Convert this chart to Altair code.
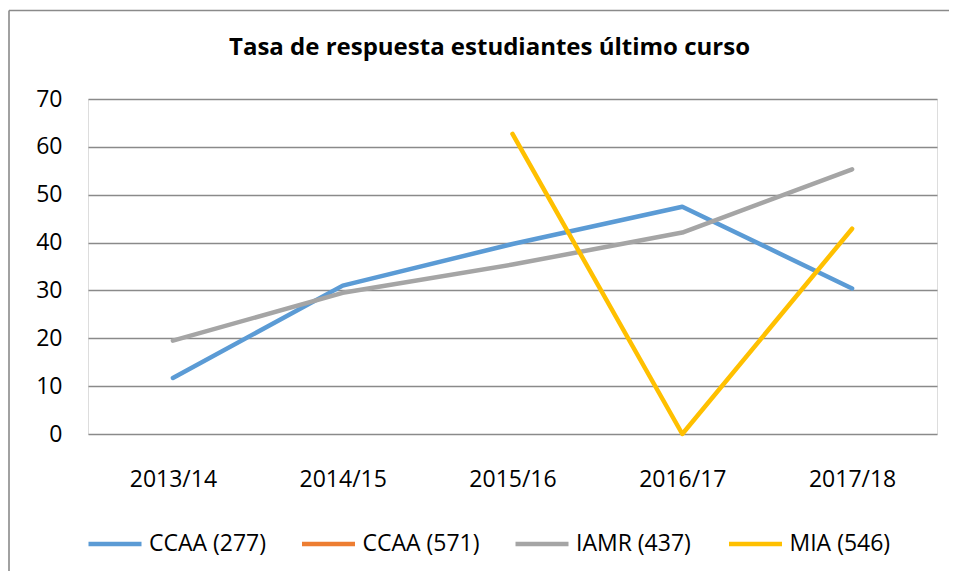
import altair as alt
import pandas as pd

years = ["2013/14", "2014/15", "2015/16", "2016/17", "2017/18"]
series_names = ["CCAA (277)", "CCAA (571)", "IAMR (437)", "MIA (546)"]
ccaa277 = [11.7, 31.0, 39.7, 47.5, 30.4]
ccaa571 = [None, None, None, None, None]
iamr437 = [19.5, 29.5, 35.4, 42.1, 55.3]
mia546 = [None, None, 62.7, 0.0, 42.9]
colors = ["#5B9BD5", "#ED7D31", "#A5A5A5", "#FFC000"]
y_ticks = [0, 10, 20, 30, 40, 50, 60, 70]

rows = []
for name, vals in zip(series_names, [ccaa277, ccaa571, iamr437, mia546]):
    for yr, v in zip(years, vals):
        rows.append({"Curso": yr, "Serie": name, "Valor": v})
df = pd.DataFrame(rows)

W, H = 849, 335
FONT = "Open Sans"
FS = 23

lines = alt.Chart(df).mark_line(strokeWidth=4.5, strokeCap="round", strokeJoin="round").encode(
    x=alt.X("Curso:N", sort=years, title=None,
            scale=alt.Scale(type="point", padding=0.5),
            axis=alt.Axis(grid=False, domain=False, ticks=False, tickSize=0,
                          labelPadding=34, labelFontSize=FS, labelFont=FONT,
                          labelColor="#000000", labelAngle=0)),
    y=alt.Y("Valor:Q", title=None,
            scale=alt.Scale(domain=[0, 70], nice=False, zero=True),
            axis=alt.Axis(values=y_ticks, grid=True, gridColor="#8a8a8a", gridWidth=1.6,
                          domain=False, ticks=False, tickSize=0, labelPadding=26,
                          labelFontSize=FS, labelFont=FONT, labelColor="#000000")),
    color=alt.Color("Serie:N", sort=series_names,
                    scale=alt.Scale(domain=series_names, range=colors),
                    legend=alt.Legend(title=None, orient="none", legendX=-2, legendY=416,
                                      direction="horizontal", columns=4, gridAlign="all",
                                      symbolType="stroke", symbolSize=2809,
                                      symbolStrokeWidth=4, labelFontSize=FS, labelFont=FONT,
                                      labelColor="#000000", labelOffset=5, columnPadding=25.5,
                                      padding=0)),
    strokeWidth=alt.StrokeWidth("Serie:N",
                                scale=alt.Scale(domain=series_names, range=[4.5, 4.5, 4.5, 3.5]),
                                legend=None),
)

one = pd.DataFrame({"a": [0]})
frame_top = alt.Chart(one).mark_rule(color="#8a8a8a", strokeWidth=1.6).encode(
    x=alt.value(-79), x2=alt.value(W + 20), y=alt.value(-88.5))
frame_left = alt.Chart(one).mark_rule(color="#8a8a8a", strokeWidth=1.6).encode(
    x=alt.value(-79), y=alt.value(-88.5), y2=alt.value(H + 200))

chart = alt.layer(frame_top, frame_left, lines).properties(
    width=W, height=H,
    title=alt.TitleParams("Tasa de respuesta estudiantes último curso", font=FONT,
                          fontSize=24, fontWeight="bold", color="#000000",
                          anchor="middle", frame="group", baseline="middle",
                          offset=-62, dx=-23),
    autosize=alt.AutoSizeParams(type="none"),
    padding={"left": 80, "top": 91, "right": 12, "bottom": 137},
).configure_view(stroke=None).configure(background="#ffffff")

chart.save("out.html", embed_options={"renderer": "svg", "actions": False})
